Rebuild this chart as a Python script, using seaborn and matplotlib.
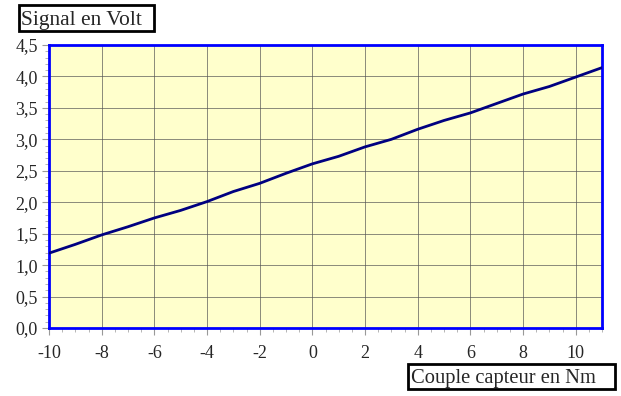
import matplotlib
matplotlib.use("Agg")
import matplotlib.pyplot as plt
import seaborn as sns
import pandas as pd
from matplotlib.ticker import MultipleLocator, FuncFormatter
from matplotlib.patches import Rectangle

couple_nm = [-10, -9, -8, -7, -6, -5, -4, -3, -2, -1, 0, 1, 2, 3, 4, 5, 6, 7, 8, 9, 10, 11]
signal_volt = [1.19, 1.33, 1.48, 1.61, 1.75, 1.87, 2.01, 2.17, 2.30, 2.46, 2.61, 2.73,
               2.88, 3.00, 3.16, 3.30, 3.42, 3.57, 3.72, 3.84, 3.99, 4.14]
x_ticks = [-10, -8, -6, -4, -2, 0, 2, 4, 6, 8, 10]
y_ticks = [0.0, 0.5, 1.0, 1.5, 2.0, 2.5, 3.0, 3.5, 4.0, 4.5]
y_label = "Signal en Volt"
x_label = "Couple capteur en Nm"

df = pd.DataFrame({"couple": couple_nm, "signal": signal_volt})

sns.set_style("white")
plt.rcParams["font.family"] = ["Liberation Serif", "DejaVu Serif"]

W, H = 621, 396
fig = plt.figure(figsize=(6.21, 3.96), dpi=100)
ax = fig.add_axes([49/W, 68/H, 553/W, 283/H])
ax.set_facecolor("#FFFFCC")

ax.set_xlim(-10, 11)
ax.set_ylim(0, 4.5)
ax.set_xticks(x_ticks)
ax.set_yticks(y_ticks)
ax.xaxis.set_minor_locator(MultipleLocator(0.5))
ax.yaxis.set_minor_locator(MultipleLocator(0.1))
ax.grid(True, which="major", color="#555555", linewidth=0.6, alpha=0.8)
ax.set_axisbelow(True)

sns.lineplot(data=df, x="couple", y="signal", ax=ax, color="#000080", linewidth=2, zorder=3)

ax.set_xlabel("")
ax.set_ylabel("")
for s in ax.spines.values():
    s.set_visible(True)
    s.set_color("#0000FF")
    s.set_linewidth(2)

ax.tick_params(which="major", direction="out", length=5, width=0.8, color="#999999",
               labelsize=13, left=True, bottom=True)
ax.tick_params(which="minor", direction="out", length=3, width=0.6, color="#aaaaaa",
               left=True, bottom=True)
ax.tick_params(axis="y", pad=3)
ax.tick_params(axis="x", pad=7)
ax.yaxis.set_major_formatter(FuncFormatter(lambda v, p: f"{v:.1f}".replace(".", ",")))
ax.xaxis.set_major_formatter(FuncFormatter(lambda v, p: f"{int(v)}"))

# label boxes (pixel coordinates from top-left)
def boxed_label(text, x0, y0, x1, y1, tx, size):
    fig.patches.append(Rectangle((x0/W, 1 - y1/H), (x1 - x0)/W, (y1 - y0)/H,
                                 transform=fig.transFigure, facecolor="white",
                                 edgecolor="black", linewidth=2, zorder=5))
    fig.text(tx/W, 1 - ((y0 + y1)/2 + 2)/H, text, fontsize=size, ha="left", va="center", zorder=6)

boxed_label(y_label, 19, 5, 154, 31, 21, 15.5)
boxed_label(x_label, 408, 364, 615, 389, 411, 14.8)

fig.savefig("out.png", dpi=100)
